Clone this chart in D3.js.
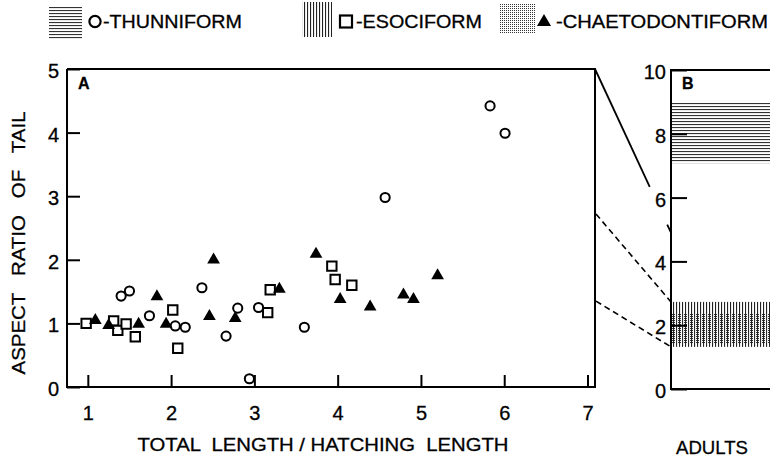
<!DOCTYPE html>
<html><head><meta charset="utf-8">
<script src="https://cdn.jsdelivr.net/npm/d3@7"></script>
<style>
html,body{margin:0;padding:0;background:#fff;}
svg{display:block;font-family:"Liberation Sans",Arial,sans-serif;}
svg text{stroke:#000;stroke-width:0.3px;fill:#000;white-space:pre;}
</style></head>
<body><svg id="c" width="770" height="459"></svg>
<script>
// ---- data ----
const xTicks = [1, 2, 3, 4, 5, 6, 7];
const yTicksA = [0, 1, 2, 3, 4, 5];
const yTicksB = [0, 2, 4, 6, 8, 10];

const thunniformX = [1.40, 1.50, 1.74, 2.05, 2.17, 2.37, 2.66, 2.80, 2.94, 3.05, 3.60, 4.57, 5.83, 6.01];
const thunniformY = [1.43, 1.51, 1.12, 0.96, 0.94, 1.56, 0.80, 1.24, 0.13, 1.25, 0.94, 2.98, 4.42, 3.99];

const esociformX = [0.98, 1.31, 1.36, 1.46, 1.57, 2.02, 2.08, 3.16, 3.19, 3.93, 3.97, 4.17];
const esociformY = [1.00, 1.04, 0.89, 0.99, 0.79, 1.21, 0.61, 1.17, 1.53, 1.90, 1.69, 1.60];

const chaetoX = [1.09, 1.25, 1.61, 1.83, 1.94, 2.46, 2.51, 2.77, 3.30, 3.74, 4.03, 4.39, 4.79, 4.91, 5.20];
const chaetoY = [1.05, 0.97, 0.99, 1.42, 0.99, 1.11, 2.00, 1.08, 1.54, 2.09, 1.38, 1.26, 1.45, 1.38, 1.75];

// adult ranges (panel B)
const adultThunniform = [7.08, 9.0];
const adultEsociform = [1.32, 2.73];
const adultChaeto = [1.44, 2.38];

// links between panels: [value on A, value on B]
const solidLink = [5.0, 4.9];
const dashedLinks = [[2.72, 2.73], [1.35, 1.32]];

const legendLabels = ["-THUNNIFORM", "-ESOCIFORM", "-CHAETODONTIFORM"];

// ---- drawing ----
const svg = d3.select("#c");
svg.append("rect").attr("width", 770).attr("height", 459).attr("fill", "#fff");

const defs = svg.append("defs");
const ph = defs.append("pattern").attr("id", "hl").attr("patternUnits", "userSpaceOnUse")
  .attr("width", 9).attr("height", 3);
ph.append("rect").attr("x", 0).attr("y", 1).attr("width", 9).attr("height", 1.1).attr("fill", "#333");
const pv = defs.append("pattern").attr("id", "vl").attr("patternUnits", "userSpaceOnUse")
  .attr("width", 3).attr("height", 9);
pv.append("rect").attr("x", 1).attr("y", 0).attr("width", 1.1).attr("height", 9).attr("fill", "#222");
const ps = defs.append("pattern").attr("id", "st").attr("patternUnits", "userSpaceOnUse")
  .attr("width", 2).attr("height", 2);
ps.append("rect").attr("x", 0).attr("y", 0).attr("width", 1).attr("height", 1).attr("fill", "#333");

const x = d3.scaleLinear().domain([0.75, 7.09]).range([67, 595]);
const yA = d3.scaleLinear().domain([0, 5]).range([387, 69]);
const yB = d3.scaleLinear().domain([0, 10]).range([389, 70]);
const xB0 = 671, xB1 = 772;

// Legend
const lg = svg.append("g");
lg.append("rect").attr("x", 49).attr("y", 6).attr("width", 33).attr("height", 33).attr("fill", "url(#hl)");
lg.append("circle").attr("cx", 95).attr("cy", 21.5).attr("r", 5.6).attr("fill", "none").attr("stroke", "#000").attr("stroke-width", 2.2);
lg.append("text").attr("x", 103).attr("y", 28).attr("font-size", 18).attr("textLength", 139)
  .attr("lengthAdjust", "spacingAndGlyphs").text(legendLabels[0]);
lg.append("rect").attr("x", 302).attr("y", 2).attr("width", 30).attr("height", 35).attr("fill", "url(#vl)");
lg.append("rect").attr("x", 340).attr("y", 15.5).attr("width", 12).attr("height", 12).attr("fill", "none").attr("stroke", "#000").attr("stroke-width", 2.2);
lg.append("text").attr("x", 356).attr("y", 28).attr("font-size", 18).attr("textLength", 126)
  .attr("lengthAdjust", "spacingAndGlyphs").text(legendLabels[1]);
lg.append("rect").attr("x", 500).attr("y", 3).attr("width", 35).attr("height", 30).attr("fill", "url(#st)");
lg.append("path").attr("transform", "translate(544,22)")
  .attr("d", d3.symbol().type(d3.symbolTriangle).size(85)()).attr("fill", "#000");
lg.append("text").attr("x", 556).attr("y", 28).attr("font-size", 18).attr("textLength", 212)
  .attr("lengthAdjust", "spacingAndGlyphs").text(legendLabels[2]);

// Panel B bands
svg.append("rect").attr("x", xB0).attr("y", yB(adultThunniform[1])).attr("width", xB1 - xB0)
  .attr("height", yB(adultThunniform[0]) - yB(adultThunniform[1])).attr("fill", "url(#hl)");
svg.append("rect").attr("x", xB0).attr("y", yB(adultEsociform[1])).attr("width", xB1 - xB0)
  .attr("height", yB(adultEsociform[0]) - yB(adultEsociform[1])).attr("fill", "url(#vl)");
svg.append("rect").attr("x", xB0).attr("y", yB(adultChaeto[1])).attr("width", xB1 - xB0)
  .attr("height", yB(adultChaeto[0]) - yB(adultChaeto[1])).attr("fill", "url(#st)");

// Axes
const axX = svg.append("g").attr("transform", "translate(0,387)")
  .call(d3.axisBottom(x).tickValues(xTicks).tickSize(-12).tickPadding(19).tickFormat(d3.format("d")));
const axYA = svg.append("g").attr("transform", "translate(67,0)")
  .call(d3.axisLeft(yA).tickValues(yTicksA).tickSize(-13).tickPadding(8).tickFormat(d3.format("d")));
const axYB = svg.append("g").attr("transform", `translate(${xB0},0)`)
  .call(d3.axisLeft(yB).tickValues(yTicksB).tickSize(-16).tickPadding(5).tickFormat(d3.format("d")));
[axX, axYA, axYB].forEach(a => {
  a.select(".domain").remove();
  a.selectAll(".tick line").attr("stroke", "#000").attr("stroke-width", 2);
  a.selectAll(".tick text").attr("font-size", 20).attr("font-family", "Liberation Sans, Arial, sans-serif").attr("fill", "#000");
});
axYA.selectAll(".tick text").attr("dy", "0.42em");
axYB.selectAll(".tick text").attr("dy", "0.42em");

// frames
svg.append("path").attr("d", `M67,69H596M67,69V387H595V69`).attr("fill", "none").attr("stroke", "#000").attr("stroke-width", 2);
svg.append("path").attr("d", `M${xB1},70H${xB0}V389H${xB1}`).attr("fill", "none").attr("stroke", "#000").attr("stroke-width", 2);

// Links
const p0 = [595, yA(solidLink[0])], p1 = [xB0, yB(solidLink[1])];
const lerp = t => [p0[0] + (p1[0] - p0[0]) * t, p0[1] + (p1[1] - p0[1]) * t];
[[0, 0.72], [0.95, 1]].forEach(([a, b]) => {
  const s = lerp(a), e = lerp(b);
  svg.append("line").attr("x1", s[0]).attr("y1", s[1]).attr("x2", e[0]).attr("y2", e[1])
    .attr("stroke", "#000").attr("stroke-width", 1.8);
});
dashedLinks.forEach(([a, b]) => {
  svg.append("line").attr("x1", 596).attr("y1", yA(a)).attr("x2", xB0).attr("y2", yB(b))
    .attr("stroke", "#000").attr("stroke-width", 1.6).attr("stroke-dasharray", "6,4");
});

// Points
const pts = svg.append("g");
esociformX.forEach((v, i) => {
  pts.append("path").attr("transform", `translate(${x(v)},${yA(esociformY[i])})`)
    .attr("d", d3.symbol().type(d3.symbolSquare).size(88)()).attr("fill", "#fff").attr("stroke", "#000").attr("stroke-width", 2);
});
thunniformX.forEach((v, i) => {
  pts.append("path").attr("transform", `translate(${x(v)},${yA(thunniformY[i])})`)
    .attr("d", d3.symbol().type(d3.symbolCircle).size(66)()).attr("fill", "#fff").attr("stroke", "#000").attr("stroke-width", 2);
});
chaetoX.forEach((v, i) => {
  pts.append("path").attr("transform", `translate(${x(v)},${yA(chaetoY[i])})`)
    .attr("d", d3.symbol().type(d3.symbolTriangle).size(70)()).attr("fill", "#000");
});

// Panel labels
svg.append("text").attr("x", 78).attr("y", 89).attr("font-size", 16).attr("font-weight", "bold").text("A");
svg.append("text").attr("x", 682).attr("y", 89).attr("font-size", 16).attr("font-weight", "bold").text("B");

// Axis titles
svg.append("text").attr("transform", "translate(25,243) rotate(-90)").attr("text-anchor", "middle")
  .attr("font-size", 19).attr("textLength", 263).attr("lengthAdjust", "spacingAndGlyphs")
  .text("ASPECT   RATIO   OF   TAIL");
svg.append("text").attr("x", 323).attr("y", 451).attr("text-anchor", "middle")
  .attr("font-size", 19).attr("textLength", 371).attr("lengthAdjust", "spacingAndGlyphs")
  .text("TOTAL  LENGTH / HATCHING  LENGTH");
svg.append("text").attr("x", 712).attr("y", 454).attr("text-anchor", "middle")
  .attr("font-size", 19).attr("textLength", 72).attr("lengthAdjust", "spacingAndGlyphs")
  .text("ADULTS");
</script></body></html>
